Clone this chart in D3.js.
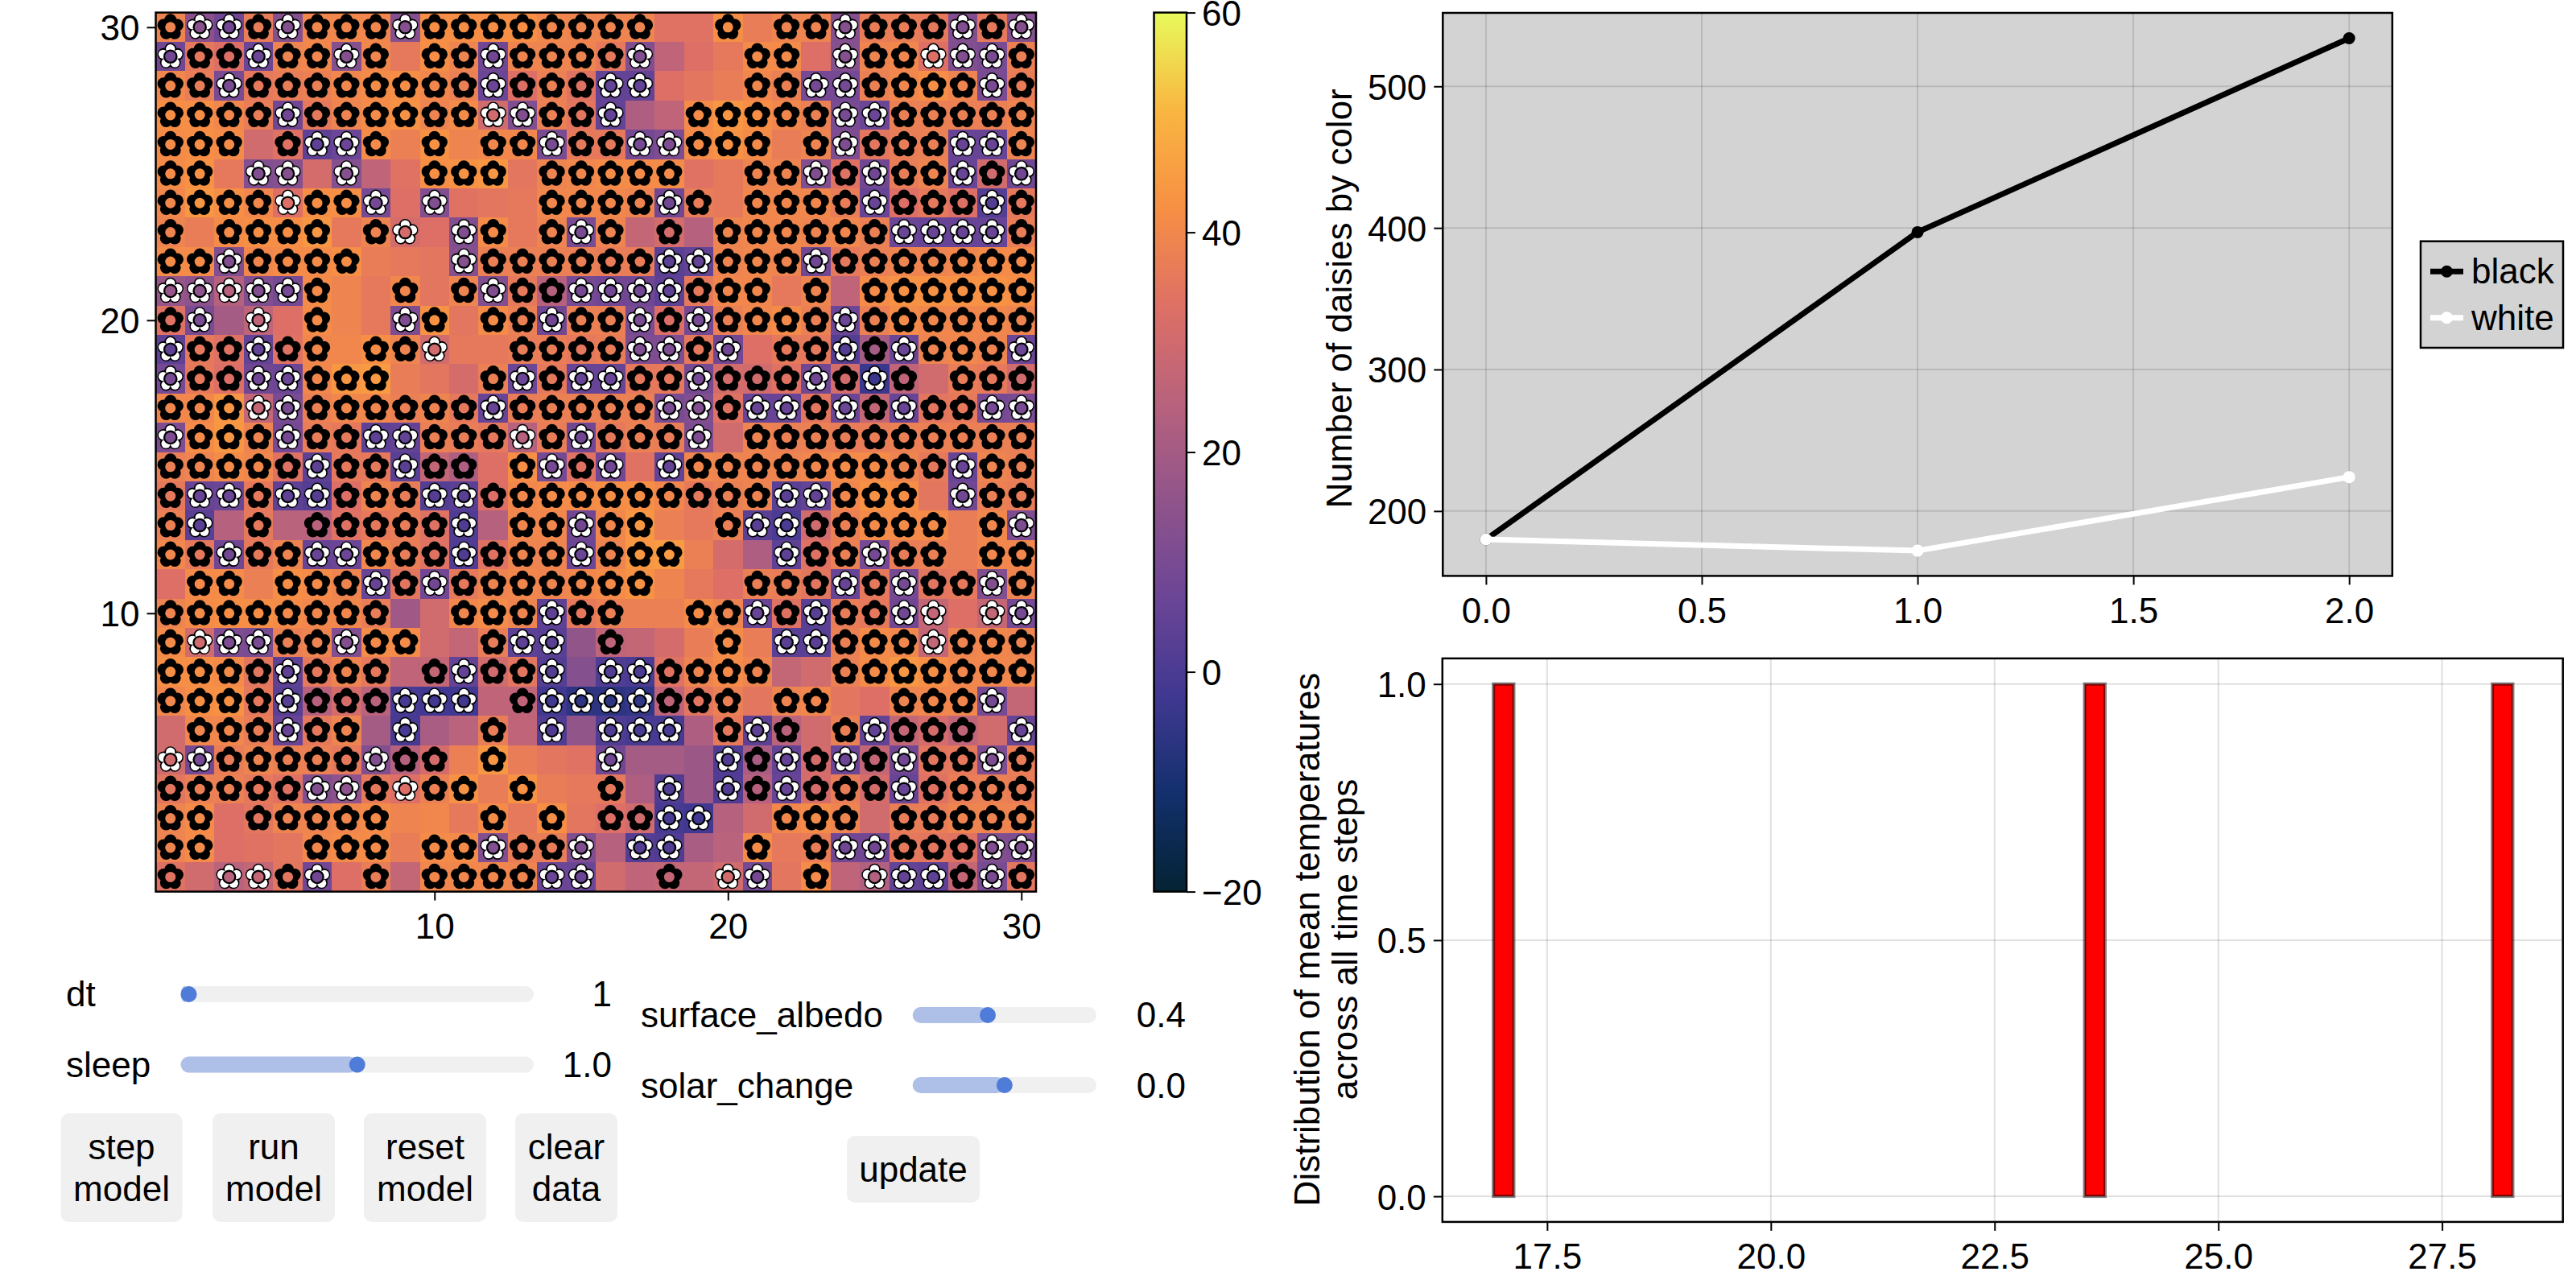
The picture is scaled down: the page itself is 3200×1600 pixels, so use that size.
<!DOCTYPE html>
<html>
<head>
<meta charset="utf-8">
<script src="https://d3js.org/d3.v7.min.js"></script>
<style>
body { margin: 0; background: #fff; }
text { font-family: "Liberation Sans", sans-serif; font-size: 44px; fill: #000; }
.tick text { font-family: "Liberation Sans", sans-serif; font-size: 44px; fill: #000; }
.tick line { stroke: #000; stroke-width: 2; }
</style>
</head>
<body>
<svg id="chart" width="3200" height="1600"></svg>
<script>
// rows run from y = 30 at the top down to y = 1
const daisyRows = [
  "bwwbwbbbwbbbbbbbb..b.bbwbbbwbw",
  "wbbwbbwb.bbwbbbbw...bb.wbbwwwb",
  "bbwbbbbbbbbwbbbww...bbwwbbbbwb",
  "bbbbwbbbbbbwwbbw..bbbbbwwbbbbb",
  "bbb.bwwb.b.bbwbbwwbbb.bwbbbwwb",
  "bb.ww.w..bbb.bbbbb..bbwbwbbwbw",
  "bbbbwbbw.w...bbbbwb.bbbbwbbbwb",
  "b.bbbb.bw.wb.bwb.b.bbbbbbwwwwb",
  "bbwbbbb...wbbbbbbwwbbbwbbbbbbb",
  "wwwwwb..b.bwbbwwwwbbb.b.bbbbbb",
  "bw.w.b..wb.bbwbbwbwbbbbwbbbbbb",
  "wbbwbb.bbw..bbbbwwbw.bbwbwbbbw",
  "wbbwwbbb...bwbwwbbwbbbwbwb.bbb",
  "bbbwwbbbbbbwbbbbbwwbwwbwbwbbww",
  "wbbbwbbwwbbbwbwbbbw.bbbbbbbbbb",
  "bbbbbwbbwbb.bwbw.wbbbbbbbbbwbb",
  "bwwbwwbbbwwbbbbbbbbbbwwbbb.wbb",
  "bw.b.bbbbbw.bbwbb..bwwbbbbb.bw",
  "bbwbbwwbbbwbbbwbbb...wbbwbb.bb",
  ".bb.bbbwbwbbbbbbb...bbbwbwbbwb",
  "bbbbbbbb..bbbwbb..bbwbwbbww.ww",
  "bwwwbbwbb..bww.b...b.wwbbbwbbb",
  "bbbbwbbb.bwbbw.wwbbbb..bbbbbbb",
  "bbbbwbbbwww.bwwwwbbb.bb..bbbw.",
  ".bbbwbb.w..b.w.www.bwb.bwbbb.w",
  "wwbbbbbwbb.b...w...wbwbwbwbbwb",
  "bbbbbwwbwbb.b..b.w.wbwbbbwbbbb",
  "bb.bbbbb...b.b.bbww..bbb.bbbbb",
  "bb...bbb.bbwbbw.ww..b.bwwbbbww",
  "b.wwbw.b.bbbbww..b.ww.b.wwwbwb"
];
const temperatures = [
  [39,14,8,37,13,40,40,40,13,42,42,42,42,40,39,39,39,34,34,42,37,39,39,13,37,37,36,12,36,13],
  [8,36,33,7,39,40,13,40,36,42,39,8,39,39,39,36,12,26,33,36,41,41,33,13,39,40,33,12,10,38],
  [40,37,10,36,37,38,40,41,42,40,38,7,33,38,34,5,5,33,35,37,40,38,9,9,38,40,42,39,10,37],
  [42,42,40,37,8,36,39,41,43,39,41,30,12,38,35,5,22,26,41,44,42,40,38,10,7,38,38,38,38,39],
  [41,42,41,30,34,4,7,41,38,43,39,40,40,10,36,36,9,11,41,43,41,37,39,11,35,37,38,6,6,39],
  [41,43,36,12,13,31,13,26,34,42,43,44,35,39,40,41,41,41,34,36,39,39,12,34,8,37,39,6,30,8],
  [40,44,42,40,33,42,42,9,33,12,34,35,36,40,40,40,39,8,37,36,40,40,40,37,6,33,36,33,2,36],
  [39,37,41,42,42,44,36,39,31,33,12,41,36,39,10,39,27,31,24,39,40,40,39,40,38,7,6,6,6,37],
  [41,41,12,40,41,41,42,37,36,35,13,38,38,38,38,37,37,3,5,39,40,39,8,36,38,39,39,40,41,41],
  [17,15,24,12,9,41,39,36,40,35,39,12,36,24,9,8,8,4,36,40,40,36,39,26,41,43,43,43,43,42],
  [34,10,20,26,33,41,39,36,11,43,35,41,38,8,38,38,10,33,9,38,40,41,38,7,38,41,40,40,40,39],
  [4,36,34,5,34,40,40,42,39,30,36,36,37,37,36,37,11,11,36,8,33,36,36,2,20,7,39,40,39,7],
  [9,36,33,8,7,40,44,45,37,35,31,38,7,36,6,6,36,36,9,31,30,34,8,31,-3,26,30,37,36,30],
  [40,40,44,27,10,38,40,40,38,39,36,6,37,38,38,38,38,10,12,34,6,6,35,7,27,6,35,36,9,10],
  [11,41,44,39,9,37,36,4,5,38,37,36,24,37,8,36,38,37,11,30,39,38,38,37,37,38,38,38,38,38],
  [38,39,41,40,34,4,36,36,3,27,22,33,42,9,34,8,34,5,40,39,39,39,40,41,41,39,36,6,39,38],
  [36,6,7,36,4,2,33,39,37,2,3,33,40,41,41,42,42,40,36,38,39,3,5,40,43,42,35,8,38,37],
  [38,3,24,36,25,25,34,36,37,34,1,24,40,40,8,40,44,38,36,38,3,0,30,38,41,41,41,37,40,11],
  [40,36,8,36,39,6,7,40,37,34,1,34,39,39,7,39,44,45,38,31,22,4,34,38,9,37,38,37,40,40],
  [33,41,41,38,42,41,39,6,35,8,36,39,40,39,40,41,43,39,36,33,38,37,35,6,36,9,35,36,12,39],
  [39,41,42,42,41,40,40,37,19,30,40,41,39,4,36,38,38,38,41,39,6,34,3,37,36,8,27,33,27,9],
  [41,30,11,10,38,39,12,41,41,30,27,37,4,3,16,26,27,31,37,41,37,3,3,38,41,40,27,39,40,39],
  [42,42,41,35,4,36,39,36,26,27,5,30,35,2,13,1,0,34,39,41,39,27,30,38,41,44,42,40,40,40],
  [40,42,43,36,3,24,31,25,-1,-2,-2,26,26,-2,-6,-6,-5,26,35,38,35,39,40,35,33,39,40,40,9,27],
  [30,40,40,37,6,36,39,20,-1,21,25,37,26,1,16,1,-1,-1,22,36,4,25,30,38,5,27,31,26,30,6],
  [30,9,37,39,38,38,36,12,24,31,38,44,37,35,34,8,20,20,18,1,21,5,31,7,27,8,35,36,11,37],
  [35,38,38,36,34,12,15,36,33,38,43,37,43,37,36,36,22,1,18,1,24,6,31,37,31,6,34,37,38,37],
  [39,41,33,35,39,39,40,41,39,40,36,41,36,42,35,33,30,-1,-2,24,30,40,41,39,30,37,37,39,39,39],
  [39,41,33,34,35,40,41,41,37,41,41,12,37,37,12,24,2,1,21,25,41,36,37,8,8,36,35,34,12,11],
  [34,30,25,27,35,8,33,37,27,40,40,40,39,7,7,30,26,27,27,30,9,35,41,26,23,5,4,27,10,35]
];
const gridTicks = [10, 20, 30];
const colorTicks = [-20, 0, 20, 40, 60];
const thermalColors = ["#042333", "#13306d", "#403891", "#6b4596", "#90548b", "#b8627d", "#de7065", "#f78f44", "#f9b641", "#e8fa5b"];

const steps = [0, 1, 2];
const blackCounts = [180, 397, 534];
const whiteCounts = [180, 172, 224];
const stepTicks = [0, 0.5, 1, 1.5, 2];
const countTicks = [200, 300, 400, 500];

const meanTemps = [17.0, 23.6, 28.2];
const tempTicks = [17.5, 20, 22.5, 25, 27.5];
const freqTicks = [0, 0.5, 1];

const sliderNames = ["dt", "sleep", "surface_albedo", "solar_change"];
const sliderValues = [1, 1, 0.4, 0];
const sliderLabels = ["1", "1.0", "0.4", "0.0"];
const sliderRanges = [[1, 100], [0, 2], [0, 1], [-1, 1]];
const buttonLabels = [["step", "model"], ["run", "model"], ["reset", "model"], ["clear", "data"], ["update"]];

const svg = d3.select("#chart");

// ---- heatmap ----
const HM = { left: 193.5, right: 1287, top: 15.6, bottom: 1107.6 };
const x = d3.scaleLinear().domain([0.5, 30.5]).range([HM.left, HM.right]);
const y = d3.scaleLinear().domain([0.5, 30.5]).range([HM.bottom, HM.top]);
const color = d3.scaleLinear()
  .domain(thermalColors.map((c, i) => -20 + i * 80 / (thermalColors.length - 1)))
  .range(thermalColors);

const cells = [];
temperatures.forEach((row, r) => row.forEach((t, c) => {
  cells.push({ col: c + 1, row: 30 - r, temp: t, kind: daisyRows[r][c] });
}));

svg.append("g").selectAll("rect").data(cells).enter().append("rect")
  .attr("x", d => x(d.col - 0.5))
  .attr("y", d => y(d.row + 0.5))
  .attr("width", x(1) - x(0))
  .attr("height", y(0) - y(1))
  .attr("fill", d => color(d.temp))
  .attr("shape-rendering", "crispEdges");

const petalAt = (dist) => d3.range(5).map(i => {
  const a = -Math.PI / 2 + i * 2 * Math.PI / 5;
  return [dist * Math.cos(a), dist * Math.sin(a)];
});
const outerPetals = petalAt(9);
const innerPetals = petalAt(9.6);

const flowers = svg.append("g").selectAll("g").data(cells.filter(d => d.kind !== ".")).enter().append("g")
  .attr("transform", d => `translate(${x(d.col)},${y(d.row)})`);

flowers.each(function(d) {
  const g = d3.select(this);
  outerPetals.forEach(p => g.append("circle").attr("cx", p[0]).attr("cy", p[1]).attr("r", 7.6).attr("fill", "#000"));
  if (d.kind === "w") {
    innerPetals.forEach(p => g.append("circle").attr("cx", p[0]).attr("cy", p[1]).attr("r", 5.6).attr("fill", "#fff"));
  }
  g.append("circle").attr("r", 8.8).attr("fill", "#000");
  g.append("circle").attr("r", 6.5).attr("fill", color(d.temp));
});

function frame(box) {
  svg.append("rect")
    .attr("x", box.left).attr("y", box.top)
    .attr("width", box.right - box.left).attr("height", box.bottom - box.top)
    .attr("fill", "none").attr("stroke", "#000").attr("stroke-width", 2.5);
}

function addAxis(axis, tx, ty, tickSize, pad) {
  const g = svg.append("g")
    .attr("transform", `translate(${tx},${ty})`)
    .call(axis.tickSize(tickSize).tickPadding(pad));
  g.select(".domain").remove();
  return g;
}

// vertical axes sit a little lower than d3 puts them
function addYAxis(axis, tx, pad) {
  const g = addAxis(axis, tx, 0, 11, pad);
  g.selectAll(".tick text").attr("dy", "16px");
  return g;
}

function grid(box, xs, ys, xScale, yScale) {
  const g = svg.append("g").attr("stroke", "rgba(0,0,0,0.12)").attr("stroke-width", 2);
  g.selectAll(".gx").data(xs).enter().append("line")
    .attr("x1", d => xScale(d)).attr("x2", d => xScale(d))
    .attr("y1", box.top).attr("y2", box.bottom);
  g.selectAll(".gy").data(ys).enter().append("line")
    .attr("y1", d => yScale(d)).attr("y2", d => yScale(d))
    .attr("x1", box.left).attr("x2", box.right);
}

frame(HM);
addAxis(d3.axisBottom(x).tickValues(gridTicks).tickFormat(d3.format("d")), 0, HM.bottom, 11, 16);
addYAxis(d3.axisLeft(y).tickValues(gridTicks).tickFormat(d3.format("d")), HM.left, 9);

// ---- colorbar ----
const CB = { left: 1433.5, right: 1474, top: 15.6, bottom: 1107.6 };
const cbScale = d3.scaleLinear().domain([-20, 60]).range([CB.bottom, CB.top]);
const defs = svg.append("defs");
const gradient = defs.append("linearGradient").attr("id", "thermal")
  .attr("x1", 0).attr("x2", 0).attr("y1", 1).attr("y2", 0);
gradient.selectAll("stop").data(thermalColors).enter().append("stop")
  .attr("offset", (d, i) => i / (thermalColors.length - 1))
  .attr("stop-color", d => d);
svg.append("rect")
  .attr("x", CB.left).attr("y", CB.top)
  .attr("width", CB.right - CB.left).attr("height", CB.bottom - CB.top)
  .attr("fill", "url(#thermal)");
frame(CB);
addYAxis(d3.axisRight(cbScale).tickValues(colorTicks), CB.right, 8);

// ---- daisy counts ----
const LP = { left: 1792.3, right: 2971.8, top: 16, bottom: 715.4 };
const lx = d3.scaleLinear().domain([-0.1, 2.1]).range([LP.left, LP.right]);
const ly = d3.scaleLinear().domain([154.2, 551.9]).range([LP.bottom, LP.top]);
svg.append("rect")
  .attr("x", LP.left).attr("y", LP.top)
  .attr("width", LP.right - LP.left).attr("height", LP.bottom - LP.top)
  .attr("fill", "#d3d3d3");
grid(LP, stepTicks, countTicks, lx, ly);

const line = d3.line().x((d, i) => lx(steps[i])).y(d => ly(d));
[[blackCounts, "#000"], [whiteCounts, "#fff"]].forEach(([counts, c]) => {
  svg.append("path").attr("d", line(counts))
    .attr("fill", "none").attr("stroke", c).attr("stroke-width", 7);
  svg.append("g").selectAll("circle").data(counts).enter().append("circle")
    .attr("cx", (d, i) => lx(steps[i])).attr("cy", d => ly(d)).attr("r", 7.5).attr("fill", c);
});
frame(LP);
addAxis(d3.axisBottom(lx).tickValues(stepTicks).tickFormat(d3.format(".1f")), 0, LP.bottom, 11, 16);
addYAxis(d3.axisLeft(ly).tickValues(countTicks), LP.left, 9);
svg.append("text")
  .attr("transform", `translate(1679,${(LP.top + LP.bottom) / 2 + 5}) rotate(-90)`)
  .attr("text-anchor", "middle")
  .text("Number of daisies by color");

// legend
const LG = { left: 3007, right: 3184, top: 299.7, bottom: 432 };
svg.append("rect")
  .attr("x", LG.left).attr("y", LG.top)
  .attr("width", LG.right - LG.left).attr("height", LG.bottom - LG.top)
  .attr("fill", "#d3d3d3").attr("stroke", "#000").attr("stroke-width", 2.5);
[["black", "#000", 337.3], ["white", "#fff", 394.7]].forEach(([label, c, ky]) => {
  svg.append("line").attr("x1", 3019).attr("x2", 3060).attr("y1", ky).attr("y2", ky)
    .attr("stroke", c).attr("stroke-width", 7);
  svg.append("circle").attr("cx", 3039.5).attr("cy", ky).attr("r", 7.5).attr("fill", c);
  svg.append("text").attr("x", 3070).attr("y", ky + 15).text(label);
});

// ---- histogram ----
const HP = { left: 1791.8, right: 3183.7, top: 817.9, bottom: 1517.9 };
const hx = d3.scaleLinear().domain([16.33, 28.85]).range([HP.left, HP.right]);
const hy = d3.scaleLinear().domain([-0.05, 1.05]).range([HP.bottom, HP.top]);
const BIN_LO = 16.9, BIN_HI = 28.29, BIN_N = 50;
const bins = d3.bin()
  .domain([BIN_LO, BIN_HI])
  .thresholds(d3.range(1, BIN_N).map(i => BIN_LO + i * (BIN_HI - BIN_LO) / BIN_N))(meanTemps);
grid(HP, tempTicks, freqTicks, hx, hy);
svg.append("g").selectAll("rect").data(bins).enter().append("rect")
  .attr("x", d => hx(d.x0))
  .attr("y", d => hy(d.length))
  .attr("width", d => hx(d.x1) - hx(d.x0))
  .attr("height", d => hy(0) - hy(d.length))
  .attr("fill", "#ff0000")
  .attr("stroke", "rgba(0,0,0,0.5)")
  .attr("stroke-width", 4);
frame(HP);
addAxis(d3.axisBottom(hx).tickValues(tempTicks).tickFormat(d3.format(".1f")), 0, HP.bottom, 11, 16);
addYAxis(d3.axisLeft(hy).tickValues(freqTicks).tickFormat(d3.format(".1f")), HP.left, 9);
[["Distribution of mean temperatures", 1639], ["across all time steps", 1686]].forEach(([label, lx0]) => {
  svg.append("text")
    .attr("transform", `translate(${lx0},1167) rotate(-90)`)
    .attr("text-anchor", "middle")
    .text(label);
});

// ---- controls ----
const sliderLayout = [
  { x0: 224.5, x1: 663, yc: 1235, labelX: 82, valueX: 760, base: 1250 },
  { x0: 224.5, x1: 663, yc: 1322.5, labelX: 82, valueX: 760, base: 1338 },
  { x0: 1133.7, x1: 1362, yc: 1261, labelX: 796, valueX: 1473, base: 1276 },
  { x0: 1133.7, x1: 1362, yc: 1348, labelX: 796, valueX: 1473, base: 1364 }
];
const KNOB = 10, TRACK_H = 20;
sliderNames.forEach((name, i) => {
  const s = sliderLayout[i];
  const pos = d3.scaleLinear().domain(sliderRanges[i]).range([s.x0 + KNOB, s.x1 - KNOB]);
  const knob = pos(sliderValues[i]);
  svg.append("text").attr("x", s.labelX).attr("y", s.base).text(name);
  svg.append("rect").attr("x", s.x0).attr("y", s.yc - TRACK_H / 2)
    .attr("width", s.x1 - s.x0).attr("height", TRACK_H).attr("rx", KNOB)
    .attr("fill", "#f0f0f0");
  svg.append("rect").attr("x", s.x0).attr("y", s.yc - TRACK_H / 2)
    .attr("width", knob - s.x0).attr("height", TRACK_H).attr("rx", KNOB)
    .attr("fill", "#aec0e8");
  svg.append("circle").attr("cx", knob).attr("cy", s.yc).attr("r", KNOB).attr("fill", "#4f7bd9");
  svg.append("text").attr("x", s.valueX).attr("y", s.base)
    .attr("text-anchor", "end").text(sliderLabels[i]);
});

const buttonLayout = [
  { x0: 75.5, x1: 226.5, y0: 1383, y1: 1518, lines: [1440, 1492] },
  { x0: 264, x1: 416, y0: 1383, y1: 1518, lines: [1440, 1492] },
  { x0: 452, x1: 604, y0: 1383, y1: 1518, lines: [1440, 1492] },
  { x0: 640, x1: 767, y0: 1383, y1: 1518, lines: [1440, 1492] },
  { x0: 1052, x1: 1217, y0: 1411, y1: 1494, lines: [1468] }
];
buttonLabels.forEach((words, i) => {
  const b = buttonLayout[i];
  svg.append("rect").attr("x", b.x0).attr("y", b.y0)
    .attr("width", b.x1 - b.x0).attr("height", b.y1 - b.y0).attr("rx", 10)
    .attr("fill", "#f0f0f0");
  words.forEach((w, j) => {
    svg.append("text").attr("x", (b.x0 + b.x1) / 2).attr("y", b.lines[j])
      .attr("text-anchor", "middle").text(w);
  });
});
</script>
</body>
</html>
